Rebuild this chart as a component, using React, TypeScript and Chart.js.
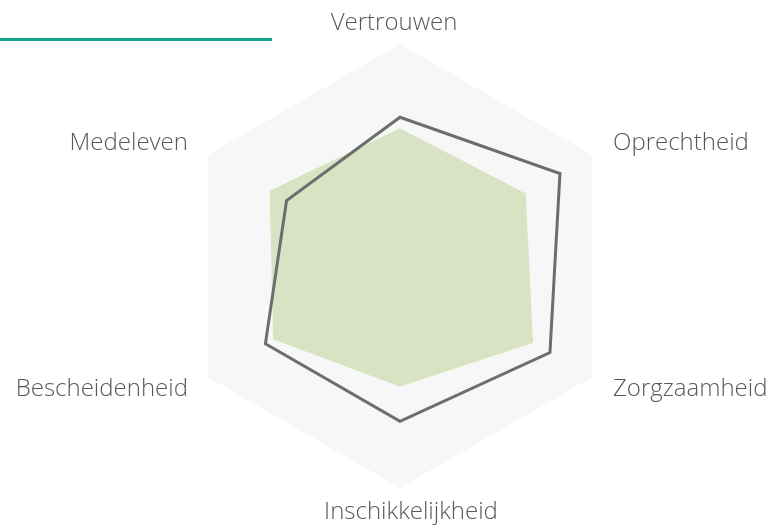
import React, { useEffect, useRef } from "react";
import { Chart, registerables } from "chart.js";

Chart.register(...registerables);

const categories = [
  "Vertrouwen",
  "Oprechtheid",
  "Zorgzaamheid",
  "Inschikkelijkheid",
  "Bescheidenheid",
  "Medeleven",
];
const outlineSeries = [3.35, 4.16, 3.9, 3.5, 3.5, 2.95];
const filledSeries = [3.1, 3.27, 3.46, 2.72, 3.3, 3.39];
const scaleMax = 5;
const backgroundSeries = categories.map(() => scaleMax);

const labelPlugin = {
  id: "customPointLabels",
  afterDraw(chart: any) {
    const scale = chart.scales.r;
    const ctx = chart.ctx;
    ctx.save();
    ctx.font = "300 24px 'Open Sans', sans-serif";
    ctx.fillStyle = "#595959";
    ctx.textBaseline = "middle";
    const labels = chart.data.labels as string[];
    labels.forEach((label, i) => {
      const p = scale.getPointPosition(i, scale.drawingArea + 24);
      let align: CanvasTextAlign = "center";
      let dx = 0;
      let dy = 0;
      if (p.x > scale.xCenter + 5) align = "left";
      else if (p.x < scale.xCenter - 5) {
        align = "right";
        dx = 1;
      } else if (p.y < scale.yCenter) {
        dx = -6;
        dy = 3;
      } else {
        dx = 11;
      }
      ctx.textAlign = align;
      ctx.fillText(label, p.x + dx, p.y + dy);
    });
    ctx.restore();
  },
};

export default function App() {
  const ref = useRef<HTMLCanvasElement>(null);
  useEffect(() => {
    if (!ref.current) return;
    const chart = new Chart(ref.current, {
      type: "radar",
      data: {
        labels: categories,
        datasets: [
          {
            label: "Outline",
            data: outlineSeries,
            borderColor: "#6d6d6d",
            borderWidth: 3,
            backgroundColor: "rgba(0,0,0,0)",
            fill: false,
            pointRadius: 0,
            borderJoinStyle: "miter",
          },
          {
            label: "Filled",
            data: filledSeries,
            borderWidth: 0,
            borderColor: "rgba(0,0,0,0)",
            backgroundColor: "#d8e3c4",
            fill: true,
            pointRadius: 0,
          },
          {
            label: "Background",
            data: backgroundSeries,
            borderWidth: 0,
            borderColor: "rgba(0,0,0,0)",
            backgroundColor: "#f7f7f7",
            fill: true,
            pointRadius: 0,
          },
        ],
      },
      options: {
        animation: false,
        responsive: false,
        maintainAspectRatio: false,
        layout: { padding: { top: 44, bottom: 43, left: 100, right: 73 } },
        plugins: {
          legend: { display: false },
          tooltip: { enabled: false },
        },
        scales: {
          r: {
            min: 0,
            max: scaleMax,
            ticks: { display: false },
            grid: { display: false },
            angleLines: { display: false },
            pointLabels: { display: false },
          },
        },
      },
      plugins: [labelPlugin],
    });
    return () => chart.destroy();
  }, []);
  return (
    <div style={{ position: "fixed", left: 0, top: 0, width: 773, height: 532, background: "#fff" }}>
      <div style={{ position: "absolute", left: 0, top: 38, width: 272, height: 3, background: "#12a58e" }} />
      <canvas ref={ref} width={773} height={532} style={{ position: "absolute", left: 0, top: 0 }} />
    </div>
  );
}
